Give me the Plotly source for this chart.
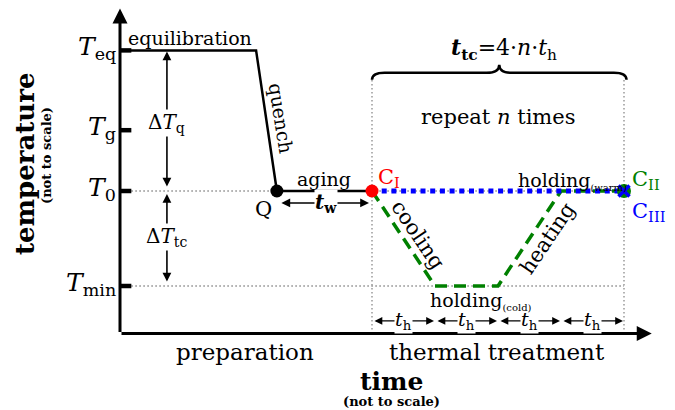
import plotly.graph_objects as go

# Temperature levels (arbitrary units: T_min = 0, T_0 = 1)
level_labels = ["<i>T</i><sub>eq</sub>", "<i>T</i><sub>g</sub>",
                "<i>T</i><sub>0</sub>", "<i>T</i><sub>min</sub>"]
level_values = [2.48, 1.64, 1.0, 0.0]
T_eq, T_g, T_0, T_min = level_values

# Preparation: equilibration, quench, aging (time in units of t_h)
prep_time = [0.16, 2.16, 2.49, 4.0]
prep_temp = [T_eq, T_eq, T_0, T_0]

# One thermal cycle: cooling, cold holding, heating, warm holding
cycle_time = [4.0, 5.0, 6.0, 7.0, 8.0]
cycle_temp = [T_0, T_min, T_min, T_0, T_0]

# Isothermal reference protocol
iso_time = [4.0, 8.0]
iso_temp = [T_0, T_0]

# Phase boundaries of the cycle (each step lasts t_h)
step_bounds = [4.0, 5.0, 6.0, 7.0, 8.0]

quench_t = 2.49
cycle_start, cycle_end = 4.0, 8.0
axis_t0, axis_T0 = 0.0, -0.5
time_axis_end = 8.44
temp_axis_end = 2.92
guide_top = 2.17
dT_x = 0.745

FONT = "DejaVu Serif"
GRAY = "#8a8a8a"
GREEN = "#008000"
BLUE = "#0000ff"
RED = "#ff0000"

fig = go.Figure()

# dotted guide lines
fig.add_trace(go.Scatter(
    x=[0.18, cycle_end, None, 0.18, cycle_end],
    y=[T_0, T_0, None, T_min, T_min],
    mode="lines", line=dict(color=GRAY, width=1.3, dash="1.5px,2.5px"),
    hoverinfo="skip"))
fig.add_trace(go.Scatter(
    x=[cycle_start, cycle_start, None, cycle_end, cycle_end],
    y=[axis_T0, guide_top, None, axis_T0, guide_top],
    mode="lines", line=dict(color=GRAY, width=1.3, dash="1.5px,2.5px"),
    hoverinfo="skip"))

# preparation protocol
fig.add_trace(go.Scatter(x=prep_time, y=prep_temp, mode="lines",
                         line=dict(color="black", width=2.5), hoverinfo="skip"))
# thermal cycling
fig.add_trace(go.Scatter(x=cycle_time, y=cycle_temp, mode="lines",
                         line=dict(color=GREEN, width=3.5, dash="12px,7px"),
                         hoverinfo="skip"))
# isothermal
fig.add_trace(go.Scatter(x=iso_time, y=iso_temp, mode="lines",
                         line=dict(color=BLUE, width=5, dash="5px,4.7px"),
                         hoverinfo="skip"))

# marker points
fig.add_trace(go.Scatter(x=[quench_t], y=[T_0], mode="markers",
                         marker=dict(color="black", size=13), hoverinfo="skip"))
fig.add_trace(go.Scatter(x=[cycle_start], y=[T_0], mode="markers",
                         marker=dict(color=RED, size=13), hoverinfo="skip"))
fig.add_trace(go.Scatter(x=[cycle_end], y=[T_0], mode="markers",
                         marker=dict(color=GREEN, size=14), hoverinfo="skip"))
fig.add_trace(go.Scatter(x=[cycle_end], y=[T_0], mode="markers",
                         marker=dict(color=BLUE, size=11, symbol="x-thin",
                                     line=dict(color=BLUE, width=3.5)),
                         hoverinfo="skip"))

# level ticks on the temperature axis
tx, ty = [], []
for v in level_values:
    tx += [axis_t0, 0.18, None]
    ty += [v, v, None]
fig.add_trace(go.Scatter(x=tx, y=ty, mode="lines",
                         line=dict(color="black", width=4.5), hoverinfo="skip"))

ann = []

# axes with arrow heads
axis_arrow = dict(xref="x", yref="y", axref="x", ayref="y", text="",
                  showarrow=True, arrowhead=2, arrowwidth=3, arrowsize=1,
                  arrowcolor="black")
ann.append(dict(axis_arrow, x=axis_t0, y=temp_axis_end, ax=axis_t0, ay=axis_T0))
ann.append(dict(axis_arrow, x=time_axis_end, y=axis_T0, ax=axis_t0, ay=axis_T0))

# double-headed arrows
def double_arrow(x0, y0, x1, y1, gap=0, width=1.6, size=1.1):
    return dict(xref="x", yref="y", axref="x", ayref="y", text="",
                x=x1, y=y1, ax=x0, ay=y0, showarrow=True,
                arrowside="end+start", arrowhead=2, startarrowhead=2,
                arrowsize=size, startarrowsize=size, arrowwidth=width,
                arrowcolor="black", standoff=gap, startstandoff=gap)

ann.append(double_arrow(dT_x, T_0, dT_x, T_eq, 0))
ann[-1].update(standoff=1, startstandoff=3)
ann.append(double_arrow(dT_x, T_min, dT_x, T_0, 0))
ann[-1].update(standoff=3, startstandoff=3)
ann.append(double_arrow(quench_t, 0.874, cycle_start, 0.874, 3))
for a, b in zip(step_bounds[:-1], step_bounds[1:]):
    ann.append(double_arrow(a, -0.368, b, -0.368, 1, width=1.3, size=1.2))

def label(text, x, y, size, color="black", xref="x", yref="y", **kw):
    d = dict(text=text, x=x, y=y, xref=xref, yref=yref, showarrow=False,
             xanchor="center", yanchor="middle",
             font=dict(family=FONT, size=size, color=color))
    d.update(kw)
    return d

# arrow labels on white background
ann.append(label("Δ<i>T</i><sub>q</sub>", dT_x, (T_eq + T_0) / 2 - 0.02, 20,
                 bgcolor="white", borderpad=0))
ann.append(label("Δ<i>T</i><sub>tc</sub>", dT_x, (T_0 + T_min) / 2 + 0.02, 20,
                 bgcolor="white", borderpad=0))
ann.append(label("<b><i>t</i><sub>w</sub></b>", (quench_t + cycle_start) / 2 + 0.03,
                 0.874, 20, bgcolor="white", borderpad=0))
for a, b in zip(step_bounds[:-1], step_bounds[1:]):
    ann.append(label("<i>t</i><sub>h</sub>", (a + b) / 2, -0.368, 19,
                     bgcolor="white", borderpad=0))

# level labels
for name, v in zip(level_labels, level_values):
    ann.append(label(name, axis_t0, v, 25, xanchor="right", yanchor="middle",
                     xshift=-2, yshift=2))

# process labels
ann.append(label("equilibration", 1.11, T_eq, 19, yanchor="bottom", yshift=-1))
ann.append(label("quench", 2.556, 1.77, 19, textangle=81))
ann.append(label("aging", (quench_t + cycle_start) / 2, T_0, 19,
                 yanchor="bottom", yshift=-1))
ann.append(label("Q", quench_t, T_0, 21, xshift=-13, yshift=-18))
ann.append(label("C<sub>I</sub>", cycle_start, T_0, 21, color=RED,
                 xanchor="left", yanchor="bottom", xshift=4, yshift=-2))
ann.append(label("C<sub>II</sub>", cycle_end, T_0, 21, color=GREEN,
                 xanchor="left", yanchor="bottom", xshift=6, yshift=-4))
ann.append(label("C<sub>III</sub>", cycle_end, T_0, 21, color=BLUE,
                 xanchor="left", yanchor="top", xshift=6, yshift=-6))
ann.append(label("holding<sub><span style='font-size:10px'>(warm)</span></sub>",
                 cycle_end, T_0, 19, xanchor="right", yanchor="bottom",
                 xshift=5, yshift=-4))
ann.append(label("holding<sub><span style='font-size:10px'>(cold)</span></sub>",
                 5.73, T_min, 19, yanchor="top", yshift=-1))
ann.append(label("cooling", 4.73, 0.537, 21, textangle=56))
ann.append(label("heating", 6.79, 0.505, 21, textangle=-56))
ann.append(label("repeat <i>n</i> times", (cycle_start + cycle_end) / 2, 1.78, 21))
ann.append(label("<b><i>t</i><sub>tc</sub></b>=4·<i>n</i>·<i>t</i><sub>h</sub>",
                 (cycle_start + cycle_end) / 2 + 0.1, 2.5, 22))

# axis region labels
ann.append(label("preparation", 245 / 675, 1 - 352 / 410, 23,
                 xref="paper", yref="paper"))
ann.append(label("thermal treatment", 497 / 675, 1 - 352 / 410, 23,
                 xref="paper", yref="paper"))
ann.append(label("<b>time</b>", 391 / 675, 1 - 381 / 410, 25,
                 xref="paper", yref="paper"))
ann.append(label("<b>(not to scale)</b>", 391 / 675, 1 - 401 / 410, 13,
                 xref="paper", yref="paper"))
ann.append(label("<b>temperature</b>", 25 / 675, 1 - 164 / 410, 26,
                 xref="paper", yref="paper", textangle=-90))
ann.append(label("<b>(not to scale)</b>", 46 / 675, 1 - 156 / 410, 13,
                 xref="paper", yref="paper", textangle=-90))

# brace over the thermal treatment
def brace_path(x0, x1, y_end, y_mid, y_tip, r):
    xm = (x0 + x1) / 2
    return (f"M{x0},{y_end} Q{x0},{y_mid} {x0 + r},{y_mid} "
            f"L{xm - r},{y_mid} Q{xm},{y_mid} {xm},{y_tip} "
            f"Q{xm},{y_mid} {xm + r},{y_mid} "
            f"L{x1 - r},{y_mid} Q{x1},{y_mid} {x1},{y_end}")

fig.add_shape(type="path", xref="x", yref="y",
              path=brace_path(cycle_start, cycle_end + 0.04, guide_top, 2.245, 2.33, 0.2),
              line=dict(color="black", width=2.5))

fig.update_layout(
    width=675, height=410,
    margin=dict(l=0, r=0, t=0, b=0),
    paper_bgcolor="white", plot_bgcolor="white",
    showlegend=False,
    font=dict(family=FONT),
    annotations=ann,
    xaxis=dict(range=[-120 / 63, 555 / 63], visible=False, fixedrange=True),
    yaxis=dict(range=[-124 / 95, 286 / 95], visible=False, fixedrange=True),
)

fig.write_html("out.html")
